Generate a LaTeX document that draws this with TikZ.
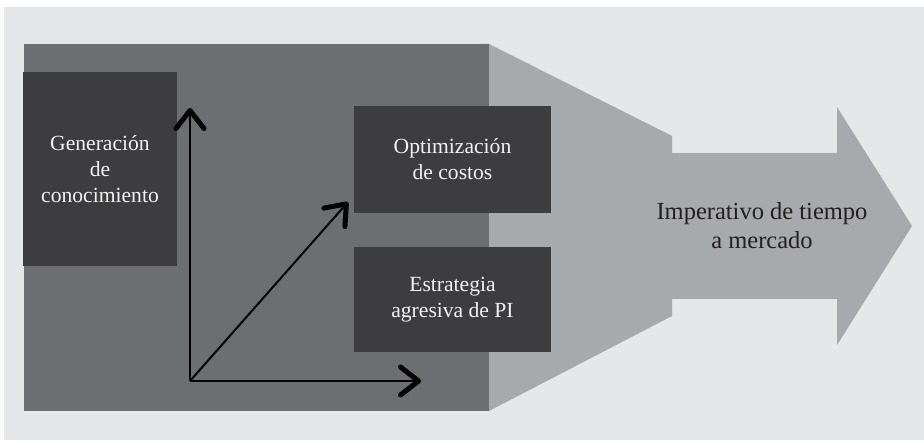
\documentclass[tikz,border=0pt]{standalone}
\usepackage{fontspec}
\setmainfont{Liberation Serif}
\usetikzlibrary{arrows.meta}
\definecolor{bgc}{HTML}{E6E7E8}
\definecolor{panelc}{HTML}{6D6E71}
\definecolor{boxc}{HTML}{3D3D3F}
\definecolor{funnelc}{HTML}{A7A9AC}
\definecolor{darktext}{HTML}{231F20}
\definecolor{lighttext}{HTML}{F2F2F2}
\tikzset{
  darkbox/.style={fill=boxc, draw=none, inner sep=0pt, align=center, text=lighttext,
    font=\fontsize{21.6pt}{26pt}\selectfont},
  axisarrow/.style={draw=black, line width=2.6pt,
    -{Straight Barb[length=18pt,width=28pt,line width=5pt,round]}},
  bigtext/.style={align=center, text=darktext, font=\fontsize{24.5pt}{29pt}\selectfont}
}
\begin{document}
\begin{tikzpicture}[x=1pt,y=-1pt]
\useasboundingbox (0,0) rectangle (924,443);
\fill[white] (0,0) rectangle (924,443);
\fill[bgc] (4,7) rectangle (924,440);
% funnel and big arrow
\fill[funnelc] (480,44) -- (489,44) -- (672,136) -- (672,153) -- (837,153) -- (837,107)
  -- (912,226) -- (837,345) -- (837,299) -- (672,299) -- (672,316) -- (489,411) -- (480,411) -- cycle;
% dark panel
\fill[panelc] (24,44) rectangle (489,411);
% boxes
\node[darkbox, minimum width=154pt, minimum height=194pt] (gen) at (100,169)
  {Generación\\de\\conocimiento};
\node[darkbox, minimum width=197pt, minimum height=107pt] (opt) at (452.5,159.5)
  {Optimización\\de costos};
\node[darkbox, minimum width=197pt, minimum height=105pt] (est) at (452.5,299.5)
  {Estrategia\\agresiva de PI};
\node[bigtext] (imp) at (762,226) {Imperativo de tiempo\\a mercado};
% axes
\coordinate (o) at (190,381);
\coordinate (ytip) at (190,108);
\coordinate (xtip) at (421,381);
\coordinate (dtip) at (348,202);
\draw[axisarrow] (o) -- (ytip);
\draw[axisarrow] (o) -- (xtip);
\draw[axisarrow, line width=2pt] (o) -- (dtip);
\end{tikzpicture}
\end{document}
